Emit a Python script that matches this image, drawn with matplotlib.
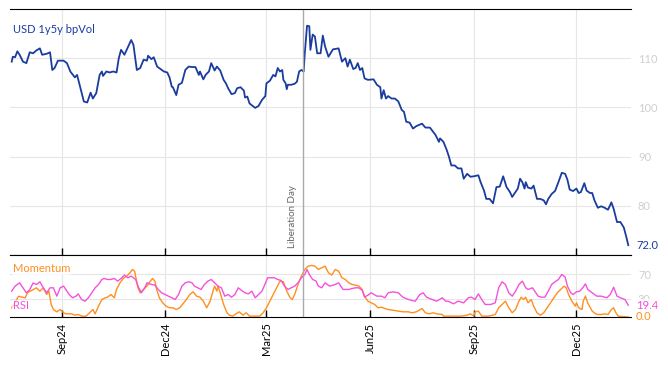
import numpy as np
import pandas as pd
import matplotlib
matplotlib.use("Agg")
import matplotlib.pyplot as plt
import matplotlib.dates as mdates
from matplotlib.transforms import blended_transform_factory

plt.rcParams['font.family'] = ['Lato', 'DejaVu Sans']

# fecha de inicio de la serie, los dias se cuentan desde aqui
inicio = pd.Timestamp('2024-07-18')

# USD 1y5y bpVol
vol_dias = [0, 1, 3, 5, 7, 10, 13, 16, 19, 22, 25, 27, 31, 34, 36, 38, 41, 46, 49, 52,
            56, 58, 61, 64, 67, 70, 72, 75, 78, 80, 81, 84, 87, 90, 93, 95, 97, 100, 102, 106,
            108, 111, 114, 117, 120, 121, 124, 126, 129, 132, 135, 138, 140, 142, 143, 146, 148, 151, 154, 157,
            160, 163, 166, 167, 170, 172, 175, 177, 180, 182, 185, 188, 190, 192, 195, 198, 200, 203, 206, 207,
            209, 211, 216, 219, 222, 225, 226, 229, 232, 234, 236, 238, 240, 241, 243, 244, 245, 248, 251, 253,
            255, 257, 259, 260, 262, 264, 265, 267, 269, 271, 274, 276, 278, 281,
            285, 290, 293, 296, 298, 300, 303, 305, 307, 309, 311, 313, 316, 321, 324, 327, 328, 330,
            332, 334, 337, 340, 343, 346, 348, 350, 353, 356, 359, 364, 367, 371, 374, 376, 379, 380,
            383, 386, 388, 390, 393, 396, 399, 401, 404, 407, 410, 414, 416, 419, 421, 424, 427, 430,
            433, 436, 439, 442, 444, 447, 449, 451, 453, 455, 456, 458, 461, 463, 466, 469, 472, 474,
            476, 479, 482, 485, 488, 491, 493, 495, 498, 501, 503, 505, 508, 510, 513, 515, 517, 520,
            523, 526, 529, 532, 534, 537, 540, 543, 545, 547]
vol_valores = [109.3, 110.3, 110.2, 111.4, 110.7, 109.3, 109.0, 111.2, 111.0, 111.6, 112.0, 110.7, 110.9, 111.2, 107.6, 108.0, 109.5, 109.5, 109.0, 107.3,
               106.1, 106.6, 103.9, 101.2, 101.0, 103.0, 101.8, 102.9, 106.6, 107.3, 106.4, 107.3, 107.1, 107.3, 107.1, 110.0, 111.7, 110.7, 111.7, 113.7,
               112.7, 107.6, 108.0, 109.7, 109.5, 110.5, 109.8, 110.2, 108.3, 107.8, 107.3, 107.1, 106.1, 104.2, 104.1, 102.5, 104.6, 105.0, 107.6, 108.3,
               108.2, 108.2, 106.6, 107.3, 105.7, 106.6, 107.3, 109.0, 107.5, 108.3, 107.5, 105.6, 104.9, 103.9, 102.7, 102.9, 103.9, 104.1, 103.4, 102.0,
               102.2, 100.8, 99.9, 100.3, 101.5, 102.3, 104.9, 105.4, 106.6, 106.3, 108.0, 107.3, 107.6, 105.6, 104.9, 103.7, 104.6, 104.6, 104.8, 105.2,
               107.3, 107.6, 107.3, 111.0, 116.6, 116.5, 111.7, 114.8, 114.4, 111.0, 111.0, 114.6, 112.4, 110.3,
               111.8, 112.0, 109.3, 110.0, 108.3, 109.7, 107.8, 108.0, 109.0, 107.6, 108.0, 105.9, 105.6, 105.7, 104.6, 104.1, 101.8, 103.5,
               101.8, 102.3, 101.8, 101.8, 101.2, 99.5, 99.1, 97.1, 96.9, 95.7, 96.2, 96.7, 95.9, 95.9, 95.0, 94.4, 93.0, 93.7,
               93.0, 91.3, 89.9, 88.2, 88.2, 87.6, 87.6, 85.5, 86.5, 85.9, 86.0, 86.2, 84.8, 83.1, 81.4, 81.4, 80.5, 83.8,
               83.9, 86.0, 83.8, 82.8, 81.8, 82.8, 83.5, 85.5, 84.8, 83.5, 84.8, 83.7, 83.5, 84.1, 81.4, 81.4, 81.1, 80.3,
               81.4, 82.4, 83.0, 84.8, 86.7, 86.5, 85.3, 83.3, 83.0, 83.5, 82.6, 82.8, 84.6, 83.1, 82.6, 82.6, 81.1, 79.6,
               79.9, 79.6, 79.2, 80.7, 79.4, 76.7, 76.7, 75.6, 73.9, 72.0]

# Momentum
mom_dias = [0, 6, 12, 14, 19, 22, 25, 28, 31, 33, 35, 37, 40, 43, 46, 48, 53, 56, 59, 62,
            66, 69, 72, 74, 77, 80, 83, 85, 88, 91, 93, 96, 99, 102, 105, 107, 109, 112, 114, 117,
            120, 123, 125, 127, 129, 131, 134, 137, 140, 143, 146, 149, 152, 155, 158, 161, 164, 167, 170, 173,
            176, 179, 180, 182, 183, 185, 188, 191, 193, 196, 199, 202, 205, 208, 211, 216, 220, 223, 226, 229,
            232, 235, 238, 241, 244, 247, 249, 251, 254, 257, 260, 263, 266, 269, 272, 275, 278, 281, 284, 287,
            290, 293, 296, 299, 302, 305, 308, 311, 313, 316, 319, 322, 325, 328, 331, 334, 338, 343, 347, 352,
            355, 359, 364, 367, 370, 374, 377, 382, 383, 387, 393, 399, 404, 407, 410, 411, 414, 417, 423, 429,
            432, 435, 438, 441, 444, 447, 450, 452, 454, 456, 458, 461, 463, 466, 469, 472, 475, 478, 481, 484,
            487, 490, 492, 494, 497, 500, 501, 503, 506, 507, 509, 511, 515, 518, 520, 523, 526, 529, 532, 534,
            536, 538, 543, 547]
mom_valores = [15, 34, 31.5, 40, 45, 48, 42.5, 48, 37, 42.5, 20.6, 12.3, 8.5, 12.3, 6.9, 5.2, 5.2, 3, 4.1, 1.4,
               1.4, 6.9, 12.3, 5.2, 17.8, 28.8, 31.6, 32.6, 37, 31.6, 45.3, 56.2, 63.4, 67.2, 72.7, 78.2, 75.4, 48, 39.8, 45.3,
               50.8, 59, 63.4, 59, 42.5, 31.6, 23.3, 17.8, 15.1, 15.1, 12.3, 15.1, 21.7, 28.8, 37, 41.4, 34.3, 32.6, 26, 15.1,
               26, 45.3, 50.8, 42.5, 50.8, 39.8, 20.6, 6.9, 3, 1.4, 5.2, 8.5, 3, 6.9, 1.4, 1.4, 1.4, 6.9, 15.1, 26,
               37, 48, 59, 57.9, 42.5, 31.6, 28.8, 37, 53.5, 67.2, 78.2, 83.7, 84.8, 83.7, 78.2, 81, 83.7, 72.7, 68.9, 78.2,
               75.4, 64.5, 61.7, 56.2, 53.5, 52.4, 50.8, 45.3, 34.3, 26, 23.3, 20.6, 15.1, 16.2, 14, 12.3, 11.2, 9.6, 8.5, 8.5,
               6.9, 8.5, 14, 6.9, 5.2, 6.9, 5.2, 4.1, 1.4, 1.4, 1.4, 1.4, 3, 5.2, 1.4, 8.5, 9.6, 1.4, 1.4, 4.1,
               15.1, 20.6, 26, 15.1, 6.9, 12.3, 26, 32.6, 28.8, 32.6, 23.3, 28.8, 17.8, 6.9, 3, 6.9, 15.1, 23.3, 31.6, 39.8,
               45.3, 50.8, 48, 37, 26, 17.8, 23.3, 15.1, 12.3, 26, 34.3, 23.3, 9.6, 5.2, 4.1, 4.1, 5.2, 4.1, 12.3, 15.1,
               6.9, 1.4, 0.5, 0.0]

# RSI
rsi_dias = [0, 3, 7, 10, 13, 16, 19, 22, 25, 28, 31, 34, 37, 40, 43, 46, 48, 51, 54, 57,
            59, 62, 65, 68, 71, 74, 77, 80, 82, 85, 88, 91, 94, 97, 100, 103, 106, 110, 112, 115,
            118, 120, 124, 127, 130, 133, 136, 139, 142, 145, 148, 151, 154, 157, 160, 162, 165, 168, 171, 174,
            177, 180, 183, 186, 189, 192, 195, 198, 201, 204, 207, 210, 213, 216, 219, 222, 224, 227, 230, 233,
            236, 239, 242, 245, 248, 251, 254, 257, 260, 262, 264, 267, 270, 272, 275, 278, 282, 287, 290, 294,
            299, 302, 305, 308, 311, 313, 316, 319, 324, 328, 331, 334, 338, 343, 347, 352, 355, 358, 362, 365,
            368, 373, 377, 382, 385, 387, 392, 396, 401, 405, 408, 411, 414, 417, 420, 425, 429, 432, 435, 438,
            441, 444, 447, 450, 453, 456, 458, 462, 465, 467, 470, 473, 476, 479, 482, 485, 488, 491, 493, 496,
            498, 501, 504, 507, 509, 511, 515, 519, 523, 528, 531, 534, 537, 540, 544, 547]
rsi_valores = [42.5, 50.8, 56.2, 48, 39.8, 45, 56, 53.5, 57.9, 48, 39.8, 48, 48, 34.3, 48, 50.8, 45.3, 37, 31.6, 34.3,
               38, 28.8, 26, 31.6, 39.8, 48, 53.5, 61.7, 63.4, 61.7, 61.7, 63.4, 59, 63.4, 68.9, 64.5, 67.2, 61.7, 50.8, 39.8,
               48, 56.2, 53.5, 52.4, 45.3, 39.8, 37, 34.3, 31.6, 28.8, 37, 50.8, 56.2, 57.9, 56.2, 50.8, 48, 45.3, 53.5, 59,
               61.7, 56.2, 50.8, 48, 34.3, 37, 32.6, 37, 48, 43.6, 39.8, 38, 42.5, 31.6, 37, 42.5, 50.8, 64.5, 64.5, 64.5,
               61.7, 60.1, 50.8, 45.3, 48, 50.8, 56.2, 64.5, 70, 78.2, 70, 61.7, 59, 50.8, 48, 56.2, 50.8, 53.5, 56.2, 45.3,
               45.3, 46.9, 48, 48, 43.6, 32.6, 35.9, 39.8, 34.3, 34.3, 31.6, 39.8, 41.4, 39.8, 32.6, 28.8, 27.2, 26, 37, 39.8,
               32.6, 28.8, 26, 31.6, 26, 26, 21.7, 26, 23.3, 31.6, 32.6, 28.8, 38, 28.8, 20.6, 20.6, 23.3, 48, 57.9, 53.5,
               39.8, 34.3, 42.5, 53.5, 59, 48, 45.3, 48, 39.8, 34.3, 32.6, 32.6, 42.5, 53.5, 57.9, 61.7, 70, 65.6, 50.8, 39.8,
               37, 41.4, 42.5, 49, 54.6, 45.3, 39.8, 34.3, 34.3, 31.6, 37, 49, 34.3, 31.6, 28.8, 19.4]

liberation_day = pd.Timestamp('2025-04-02')
meses = ['2024-09-01', '2024-12-01', '2025-03-01', '2025-06-01', '2025-09-01', '2025-12-01']

vol_fechas = inicio + pd.to_timedelta(vol_dias, unit='D')
mom_fechas = inicio + pd.to_timedelta(mom_dias, unit='D')
rsi_fechas = inicio + pd.to_timedelta(rsi_dias, unit='D')

azul = '#1a3c9e'
naranja = '#ff8f1f'
rosa = '#f452dc'
gris_txt = '#cfcfcf'
gris_grid = '#e6e6e6'

fig = plt.figure(figsize=(6.68, 3.66), dpi=100)
ax1 = fig.add_axes([0.015, 0.3033, 0.9296, 0.6721])
ax2 = fig.add_axes([0.015, 0.1339, 0.9296, 0.1694], sharex=ax1)

ax1.plot(vol_fechas, vol_valores, color=azul, lw=1.3)
ax2.plot(mom_fechas, mom_valores, color=naranja, lw=1.0)
ax2.plot(rsi_fechas, rsi_valores, color=rosa, lw=1.0)

ax1.set_xlim(inicio - pd.Timedelta(days=1.5), vol_fechas[-1] + pd.Timedelta(days=2.4))
ax1.set_ylim(70, 120)
ax2.set_ylim(0, 102)

ticks = pd.to_datetime(meses)
for ax in (ax1, ax2):
    ax.set_xticks(ticks)
    ax.grid(True, color=gris_grid, lw=0.8)
    ax.set_axisbelow(True)
    for s in ('left', 'right'):
        ax.spines[s].set_visible(False)
    ax.spines['top'].set_color('black')
    ax.spines['bottom'].set_color('black')
    ax.yaxis.tick_right()
    ax.tick_params(axis='y', length=0, pad=5, labelsize=8, labelcolor=gris_txt)
    ax.tick_params(axis='x', direction='in', length=5, width=1, color='black')
    ax.axvline(liberation_day, color='#aaaaaa', lw=1)

ax1.set_yticks([80, 90, 100, 110])
ax2.set_yticks([30, 70])
ax1.tick_params(axis='x', labelbottom=False)
ax2.xaxis.set_major_formatter(mdates.DateFormatter('%b%y'))
ax2.tick_params(axis='x', labelrotation=90, labelsize=8, labelcolor='black', pad=4)

# textos
ax1.text(0.005, 0.94, 'USD 1y5y bpVol', transform=ax1.transAxes, color=azul, fontsize=8, va='top')
ax1.text(liberation_day - pd.Timedelta(days=13), 71.5, 'Liberation Day', rotation=90,
         color='#666666', fontsize=7, ha='left', va='bottom')
ax2.text(0.005, 0.78, 'Momentum', transform=ax2.transAxes, color=naranja, fontsize=8, va='center',
         bbox=dict(facecolor='white', edgecolor='none', alpha=0.7, pad=0.5))
ax2.text(0.005, 0.18, 'RSI', transform=ax2.transAxes, color=rosa, fontsize=8, va='center',
         bbox=dict(facecolor='white', edgecolor='none', alpha=0.7, pad=0.5))

tr1 = blended_transform_factory(ax1.transAxes, ax1.transData)
tr2 = blended_transform_factory(ax2.transAxes, ax2.transData)
ax1.text(1.008, vol_valores[-1], '%.1f' % vol_valores[-1], transform=tr1, color=azul, fontsize=8, va='center')
ax2.text(1.008, rsi_valores[-1], '%.1f' % rsi_valores[-1], transform=tr2, color=rosa, fontsize=8, va='center',
         bbox=dict(facecolor='white', edgecolor='none', alpha=0.7, pad=0.3))
ax2.text(1.008, mom_valores[-1], '%.1f' % mom_valores[-1], transform=tr2, color=naranja, fontsize=8, va='center')

fig.savefig('out.png', dpi=100)
